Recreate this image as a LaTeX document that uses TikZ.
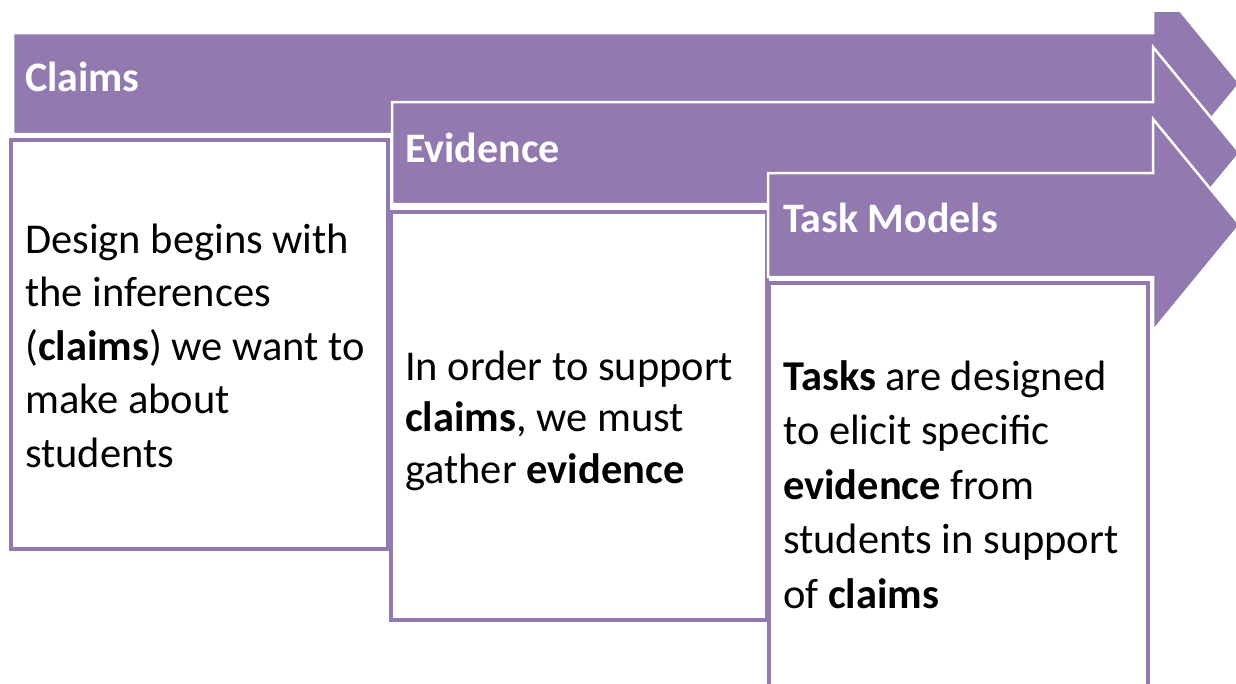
\documentclass[tikz,border=0pt]{standalone}
\usepackage{fontspec}
\setmainfont{Carlito}
\definecolor{stagepurple}{RGB}{146,121,175}
\begin{document}
\begin{tikzpicture}[x=1pt,y=-1pt,
  stagearrow/.style={fill=stagepurple,draw=white,line width=2.5pt,line join=miter},
  stagebox/.style={fill=white,draw=stagepurple,line width=4.5pt},
  headtext/.style={anchor=base west,inner sep=0pt,text=white,
    font=\fontsize{42}{52}\selectfont\bfseries},
  bodytext/.style={anchor=base west,inner sep=0pt,align=left,
    font=\fontsize{42.5}{#1}\selectfont}]
\useasboundingbox (0,0) rectangle (1236,683);
\clip (0,0) rectangle (1236,683);

% Stage 1: Claims (its head is cut flat at the top)
\begin{scope}
  \clip (0,12) rectangle (1236,683);
  \draw[stagearrow] (13,33) -- (1153,33) -- (1153,-22.5) -- (1240,83.5)
    -- (1153,189.5) -- (1153,134) -- (13,134) -- cycle;
\end{scope}
\draw[stagebox] (11,140) rectangle (388,549);
\node[headtext] (claimshead) at (25,91) {Claims};
% multi-line nodes are anchored at the baseline of their last line
\node[bodytext=53.5] (claimsbody) at (25,467)
  {Design begins with\\the inferences\\(\textbf{claims}) we want to\\make about\\students};

% Stage 2: Evidence
\draw[stagearrow] (392,102) -- (1153,102) -- (1153,47) -- (1240,153)
  -- (1153,259) -- (1153,204) -- (392,204) -- cycle;
\draw[stagebox] (391,212) rectangle (767,620);
\node[headtext] (evidencehead) at (405,162) {Evidence};
\node[bodytext=51.5] (evidencebody) at (405,483)
  {In order to support\\\textbf{claims}, we must\\gather \textbf{evidence}};

% Stage 3: Task Models
\draw[stagearrow] (768,173) -- (1153,173) -- (1153,119) -- (1240,225)
  -- (1153,331) -- (1153,277) -- (768,277) -- cycle;
\draw[stagebox] (769,283) rectangle (1148,700);
\node[headtext] (taskhead) at (783,232) {Task Models};
\node[bodytext=54.5] (taskbody) at (783,608)
  {\textbf{Tasks} are designed\\to elicit specific\\\textbf{evidence} from\\students in support\\of \textbf{claims}};
\end{tikzpicture}
\end{document}
